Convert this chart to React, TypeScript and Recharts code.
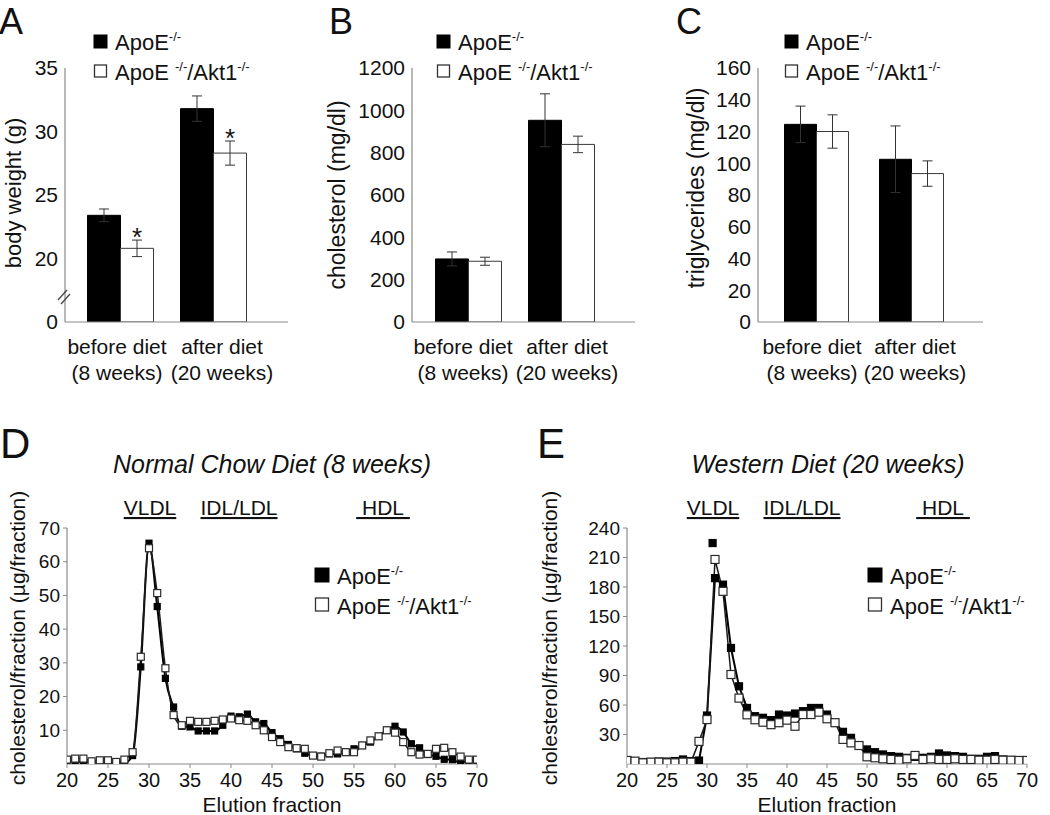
import React from 'react';
import { BarChart, Bar, XAxis, YAxis, ErrorBar, LabelList, ComposedChart, Line } from 'recharts';

const FONT = '"Liberation Sans", Arial, Helvetica, sans-serif';
const AXIS = '#8a8a8a';
const INK = '#111';

// ---------- bar panels (A, B, C) ----------
const groupNames = ['before diet', 'after diet'];
const groupWeeks = ['(8 weeks)', '(20 weeks)'];

// A: body weight (g), y axis broken between 0 and 20
const weightApoE = [23.4, 31.8];
const weightApoEErr = [0.5, 1.0];
const weightDKO = [20.8, 28.3];
const weightDKOErr = [0.65, 0.95];
const weightSignificance = ['*', '*'];
const weightTickLabels = [0, 20, 25, 30, 35];
const weightBreakShift = 15;

// B: cholesterol (mg/dl)
const cholApoE = [298, 953];
const cholApoEErr = [33, 125];
const cholDKO = [287, 839];
const cholDKOErr = [19, 39];
const cholTicks = [0, 200, 400, 600, 800, 1000, 1200];

// C: triglycerides (mg/dl)
const tgApoE = [124.5, 102.5];
const tgApoEErr = [11.5, 21];
const tgDKO = [120, 93.5];
const tgDKOErr = [10.5, 8];
const tgTicks = [0, 20, 40, 60, 80, 100, 120, 140, 160];

// ---------- FPLC profiles (D, E) ----------
const fractions = [20, 21, 22, 23, 24, 25, 26, 27, 28, 29, 30, 31, 32, 33, 34, 35, 36, 37, 38, 39, 40, 41, 42, 43, 44, 45,
  46, 47, 48, 49, 50, 51, 52, 53, 54, 55, 56, 57, 58, 59, 60, 61, 62, 63, 64, 65, 66, 67, 68, 69, 70];
const fractionTicks = [20, 25, 30, 35, 40, 45, 50, 55, 60, 65, 70];

const chowApoE = [0.8, 0.8, 0.6, 0.5, 0.6, 0.3, 0.3, 0.3, 2.5, 28.8, 65.5, 46.7, 25.4, 16.9, 11.2, 11.0, 9.8, 9.8, 9.8, 11.5,
  14.2, 14.0, 14.8, 12.5, 12.0, 9.3, 7.5, 5.8, 4.5, 3.2, 2.5, 2.3, 3.0, 3.0, 3.5, 4.5, 5.5, 6.5, 8.2, 10.0, 11.2, 9.5, 6.0,
  4.8, 2.8, 2.3, 1.4, 1.3, 0.3, 1.1, 1.1];
const chowDKO = [1.3, 1.6, 1.6, 0.8, 1.1, 1.1, 0.6, 1.3, 3.5, 31.8, 64.0, 50.7, 28.4, 14.5, 11.5, 12.8, 12.5, 12.5, 12.8, 13.2,
  13.5, 13.0, 12.8, 11.5, 10.0, 8.0, 6.5, 5.0, 4.7, 4.5, 2.5, 2.2, 3.2, 4.0, 3.5, 3.5, 5.5, 7.0, 8.2, 10.0, 9.3, 6.5, 3.5,
  2.8, 3.0, 4.5, 4.8, 3.5, 2.2, 1.3, 1.3];
const chowTicks = [10, 20, 30, 40, 50, 60, 70];

const westApoE = [2.5, 2.5, 2.0, 2.0, 2.5, 2.5, 3.0, 4.6, 3.0, 3.5, 49.3, 189, 182.4, 118, 79, 57, 48.6, 47, 44.6, 50.3,
  49.3, 51.3, 53.7, 57, 57, 50.3, 42, 32.7, 26.6, 18.8, 14.8, 12, 9.7, 8, 7.3, 6.3, 7.3, 6.3, 7.3, 10.7, 8.7, 8, 7.3, 5.3,
  5.3, 7.3, 8, 4.6, 3.9, 3.9, 3.6];
const westDKO = [3.6, 2.9, 1.2, 1.9, 1.9, 1.2, 1.2, 1.9, 1.9, 23, 45.2, 208, 175.6, 91, 67, 50, 45, 42.5, 40, 42, 44.6,
  38.4, 50.3, 50.3, 52.7, 46, 42, 25, 21.5, 18.8, 7.3, 6.3, 5.3, 4.6, 3.9, 5.3, 8.7, 4.6, 5.3, 4.6, 4.6, 5.3, 4.6, 4.6,
  3.9, 3.9, 4.6, 3.9, 3.9, 3.6, 3.6];
const westApoEStrayFraction = [30.7];
const westApoEStrayValue = [224.7];
const westTicks = [30, 60, 90, 120, 150, 180, 210, 240];

// ---------- helpers ----------
function barRows(a: number[], aErr: number[], k: number[], kErr: number[], shift: number, sig?: string[]) {
  return groupNames.map((g, i) => ({
    g, a: a[i] - shift, aErr: aErr[i], k: k[i] - shift, kErr: kErr[i], sig: sig ? sig[i] : '',
  }));
}

function BarPanel(props: any) {
  const { left, rows, domain, ticks, fmt, margin, yWidth, padding, barSize, labelDx, showSig } = props;
  const tick = (p: any) => {
    const i = groupNames.indexOf(p.payload.value);
    const x = p.x + labelDx[i];
    return (
      <text x={x} y={p.y} textAnchor="middle" fontSize={21} fill={INK} fontFamily={FONT}>
        <tspan x={x} dy={32}>{groupNames[i]}</tspan>
        <tspan x={x} dy={26}>{groupWeeks[i]}</tspan>
      </text>
    );
  };
  const sigLabel = (p: any) => {
    const r = rows[p.index];
    if (!r || !r.sig) return null;
    const errPx = (r.kErr * p.height) / r.k;
    return (
      <text key={`s${p.index}`} x={p.x + p.width / 2} y={p.y - errPx + 6} textAnchor="middle" fontSize={26}
        fill={INK} fontFamily={FONT}>
        {r.sig}
      </text>
    );
  };
  return (
    <div style={{ position: 'absolute', left, top: 0 }}>
      <BarChart width={300} height={400} data={rows} margin={margin} barGap={0} barSize={barSize}>
        <XAxis dataKey="g" tick={tick} tickLine={false} tickSize={0} tickMargin={0} height={60}
          axisLine={{ stroke: AXIS, strokeWidth: 1.2 }} padding={padding} interval={0} />
        <YAxis type="number" domain={domain} ticks={ticks} tickFormatter={fmt} width={yWidth} interval={0}
          tickLine={false} tickSize={0} tickMargin={7} axisLine={{ stroke: AXIS, strokeWidth: 1.2 }}
          tick={{ fontSize: 21, fill: INK, fontFamily: FONT }} allowDataOverflow />
        <Bar dataKey="a" fill="#000" stroke="#000" isAnimationActive={false}>
          <ErrorBar dataKey="aErr" width={5} stroke="#333" strokeWidth={1} />
        </Bar>
        <Bar dataKey="k" fill="#fff" stroke="#3a3a3a" strokeWidth={1} isAnimationActive={false}>
          <ErrorBar dataKey="kErr" width={5} stroke="#333" strokeWidth={1} />
          {showSig ? <LabelList dataKey="sig" content={sigLabel} /> : null}
        </Bar>
      </BarChart>
    </div>
  );
}

const squareDot = (size: number, fill: string, stroke: string) => (p: any) => {
  if (p.cx == null || p.cy == null) return <g key={`n${p.index}`} />;
  return (
    <rect key={`d${p.index}`} x={p.cx - size / 2} y={p.cy - size / 2} width={size} height={size}
      fill={fill} stroke={stroke} strokeWidth={1.2} />
  );
};

function ProfilePanel(props: any) {
  const { left, width, rows, stray, max, ticks, margin, yWidth, curve, size } = props;
  return (
    <div style={{ position: 'absolute', left, top: 400 }}>
      <ComposedChart width={width} height={415} data={rows} margin={margin}>
        <XAxis dataKey="f" type="number" domain={[20, 70]} ticks={fractionTicks} interval={0} height={30}
          axisLine={{ stroke: AXIS, strokeWidth: 1.2 }} tickLine={{ stroke: AXIS }} tickSize={4} tickMargin={5}
          tick={{ fontSize: 20, fill: INK, fontFamily: FONT }} allowDataOverflow />
        <YAxis type="number" domain={[0, max]} ticks={ticks} interval={0} width={yWidth}
          axisLine={{ stroke: AXIS, strokeWidth: 1.2 }} tickLine={{ stroke: AXIS }} tickSize={4} tickMargin={3}
          tick={{ fontSize: 19, fill: INK, fontFamily: FONT }} allowDataOverflow />
        <Line dataKey="a" type={curve} stroke="#000" strokeWidth={2} dot={squareDot(size - 1, '#000', '#000')}
          activeDot={false} isAnimationActive={false} />
        <Line dataKey="k" type={curve} stroke="#1a1a1a" strokeWidth={1.5} dot={squareDot(size, '#fff', '#2a2a2a')}
          activeDot={false} isAnimationActive={false} />
        {stray ? (
          <Line data={stray} dataKey="a" stroke="none" dot={squareDot(size - 1, '#000', '#000')}
            activeDot={false} isAnimationActive={false} />
        ) : null}
      </ComposedChart>
    </div>
  );
}

function LegendSvg({ x, y, sq }: { x: number; y: number; sq: number }) {
  const tx = x + sq + 8;
  return (
    <g fontFamily={FONT} fontSize={22} fill={INK}>
      <rect x={x} y={y - sq - 2} width={sq} height={sq} fill="#000" stroke="#000" />
      <text x={tx} y={y}>ApoE<tspan dy={-9} fontSize={13}>-/-</tspan></text>
      <rect x={x + 0.5} y={y + 30 - sq - 2} width={sq - 1} height={sq - 1} fill="#fff" stroke="#333" strokeWidth={1.3} />
      <text x={tx} y={y + 30}>
        ApoE <tspan dy={-9} fontSize={13}>-/-</tspan><tspan dy={9}>/Akt1</tspan><tspan dy={-9} fontSize={13}>-/-</tspan>
      </text>
    </g>
  );
}

function Underlined({ x, y, text }: { x: number; y: number; text: string }) {
  return (
    <text x={x} y={y} textAnchor="middle" fontSize={21} fontFamily={FONT} fill={INK} textDecoration="underline"
      style={{ whiteSpace: 'pre' }}>
      {text}
    </text>
  );
}

function RotLabel({ x, y, text, size }: { x: number; y: number; text: string; size: number }) {
  return (
    <text transform={`translate(${x},${y}) rotate(-90)`} textAnchor="middle" fontSize={size} fontFamily={FONT} fill={INK}>
      {text}
    </text>
  );
}

export default function App() {
  const weightRows = barRows(weightApoE, weightApoEErr, weightDKO, weightDKOErr, weightBreakShift, weightSignificance);
  const cholRows = barRows(cholApoE, cholApoEErr, cholDKO, cholDKOErr, 0);
  const tgRows = barRows(tgApoE, tgApoEErr, tgDKO, tgDKOErr, 0);
  const weightTickPos = weightTickLabels.map((t) => (t === 0 ? 0 : t - weightBreakShift));
  const chowRows = fractions.map((f, i) => ({ f, a: chowApoE[i], k: chowDKO[i] }));
  const westRows = fractions.map((f, i) => ({ f, a: westApoE[i], k: westDKO[i] }));
  const westStray = westApoEStrayFraction.map((f, i) => ({ f, a: westApoEStrayValue[i] }));

  return (
    <div style={{ position: 'absolute', left: 0, top: 0, width: 1050, height: 815, background: '#fff', fontFamily: FONT, overflow: 'hidden' }}>
      <BarPanel left={0} rows={weightRows} domain={[0, 20]} ticks={weightTickPos}
        fmt={(v: number) => String(v === 0 ? 0 : v + weightBreakShift)}
        margin={{ top: 68, right: 12, bottom: 18, left: 20 }} yWidth={45}
        padding={{ left: 8.5, right: 28.5 }} barSize={33} labelDx={[-3, 9]} showSig />
      <BarPanel left={350} rows={cholRows} domain={[0, 1200]} ticks={cholTicks} fmt={(v: number) => String(v)}
        margin={{ top: 68, right: 15, bottom: 18, left: 4 }} yWidth={58}
        padding={{ left: 9.5, right: 27.5 }} barSize={33} labelDx={[-5, 6]} />
      <BarPanel left={700} rows={tgRows} domain={[0, 160]} ticks={tgTicks} fmt={(v: number) => String(v)}
        margin={{ top: 68, right: 17, bottom: 18, left: 8 }} yWidth={50}
        padding={{ left: 10.5, right: 24.5 }} barSize={32} labelDx={[-4, 4]} />

      <ProfilePanel left={0} width={520} rows={chowRows} max={70} ticks={chowTicks}
        margin={{ top: 128, right: 43, bottom: 21, left: 27 }} yWidth={40} curve="monotone" size={7} />
      <ProfilePanel left={520} width={530} rows={westRows} stray={westStray} max={240} ticks={westTicks}
        margin={{ top: 128, right: 23, bottom: 21, left: 57 }} yWidth={50} curve="linear" size={8} />

      <svg width={1050} height={815} style={{ position: 'absolute', left: 0, top: 0, pointerEvents: 'none' }}>
        <g fontFamily={FONT} fill={INK}>
          <text x={-1} y={34} fontSize={36}>A</text>
          <text x={329} y={34} fontSize={36}>B</text>
          <text x={676} y={34} fontSize={36}>C</text>
          <text x={0} y={458} fontSize={42}>D</text>
          <text x={537} y={458} fontSize={42}>E</text>

          <RotLabel x={21} y={193} text="body weight (g)" size={22} />
          <RotLabel x={345} y={195} text="cholesterol (mg/dl)" size={23} />
          <RotLabel x={704} y={188} text="triglycerides (mg/dl)" size={23} />
          <RotLabel x={25} y={638} text="cholesterol/fraction (µg/fraction)" size={21} />
          <RotLabel x={557} y={638} text="cholesterol/fraction (µg/fraction)" size={21} />

          <text x={272} y={473} textAnchor="middle" fontSize={25} fontStyle="italic">Normal Chow Diet (8 weeks)</text>
          <text x={828} y={473} textAnchor="middle" fontSize={25} fontStyle="italic">Western Diet (20 weeks)</text>

          <text x={272} y={812} textAnchor="middle" fontSize={21}>Elution fraction</text>
          <text x={827} y={812} textAnchor="middle" fontSize={21}>Elution fraction</text>
        </g>
        <Underlined x={150} y={515} text="VLDL" />
        <Underlined x={239} y={515} text="IDL/LDL" />
        <Underlined x={383} y={515} text={'\u00a0HDL\u00a0'} />
        <Underlined x={713} y={515} text="VLDL" />
        <Underlined x={802} y={515} text="IDL/LDL" />
        <Underlined x={943} y={515} text={'\u00a0HDL\u00a0'} />

        <LegendSvg x={94} y={50} sq={13} />
        <LegendSvg x={437} y={50} sq={13} />
        <LegendSvg x={785} y={50} sq={13} />
        <LegendSvg x={315} y={584} sq={14} />
        <LegendSvg x={868} y={584} sq={14} />

        <g stroke="#444" strokeWidth={1.3}>
          <line x1={58} y1={300} x2={67} y2={290} />
          <line x1={61} y1={304} x2={70} y2={294} />
        </g>
      </svg>
    </div>
  );
}
